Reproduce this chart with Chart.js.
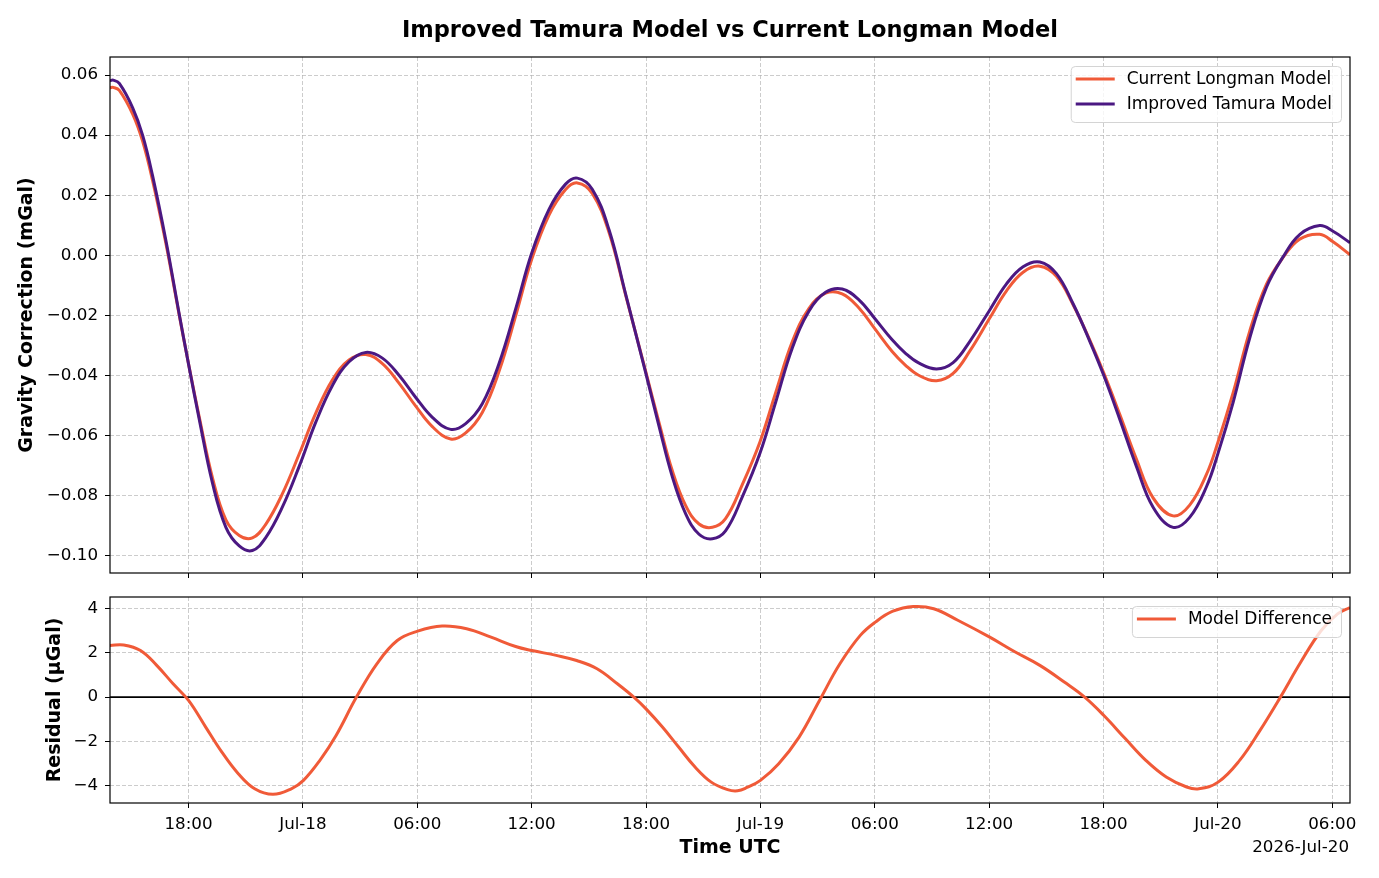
<!DOCTYPE html>
<html>
<head>
<meta charset="utf-8">
<title>Improved Tamura Model vs Current Longman Model</title>
<script src="https://cdn.jsdelivr.net/npm/chart.js@4.4.1/dist/chart.umd.min.js"></script>
<style>
  html, body { margin: 0; padding: 0; background: #fff; }
  #wrap { position: relative; width: 1379px; height: 878px; }
  canvas { position: absolute; left: 0; }
  #topChart { top: 0; }
  #resChart { top: 585px; }
</style>
</head>
<body>
<div id="wrap">
  <canvas id="topChart" width="1379" height="585"></canvas>
  <canvas id="resChart" width="1379" height="293"></canvas>
</div>
<script>
// time axis = hours since 2026-07-17 00:00 UTC

// top panel (mGal)
const modelHours = [13.88, 14.05, 14.37, 15.07, 15.59, 16.11, 16.81, 17.51, 18.00, 18.56, 19.26, 19.96, 20.66, 21.35, 22.05, 22.92, 23.80, 24.67, 25.55, 26.42, 27.30, 28.17, 29.04, 29.91, 30.79, 31.75, 32.54, 33.41, 34.29, 35.20, 36.00, 36.91, 37.78, 38.40, 39.18, 40.06, 40.93, 41.98, 42.68, 43.38, 44.08, 44.78, 45.48, 46.17, 47.05, 47.98, 48.80, 49.67, 50.55, 51.42, 52.29, 53.17, 54.00, 54.90, 55.60, 56.30, 57.24, 58.11, 58.99, 60.00, 60.91, 61.78, 62.66, 63.53, 64.41, 65.28, 66.01, 66.85, 67.73, 68.60, 69.65, 70.52, 71.40, 72.01, 72.80, 73.67, 74.55, 75.42, 76.29, 77.34, 78.04, 78.93];
const longman = [0.0558, 0.0559, 0.0549, 0.0470, 0.0380, 0.0250, 0.0040, -0.0198, -0.0361, -0.0537, -0.0741, -0.0880, -0.0932, -0.0940, -0.0895, -0.0794, -0.0662, -0.0526, -0.0414, -0.0348, -0.0330, -0.0360, -0.0425, -0.0501, -0.0570, -0.0611, -0.0591, -0.0523, -0.0386, -0.0193, -0.0014, 0.0134, 0.0219, 0.0241, 0.0206, 0.0076, -0.0132, -0.0385, -0.0556, -0.0717, -0.0833, -0.0894, -0.0905, -0.0876, -0.0763, -0.0620, -0.0457, -0.0288, -0.0176, -0.0126, -0.0128, -0.0175, -0.0244, -0.0319, -0.0365, -0.0399, -0.0417, -0.0393, -0.0318, -0.0212, -0.0118, -0.0056, -0.0036, -0.0070, -0.0165, -0.0282, -0.0391, -0.0529, -0.0679, -0.0807, -0.0867, -0.0831, -0.0729, -0.0620, -0.0457, -0.0252, -0.0096, -0.0007, 0.0054, 0.0070, 0.0045, 0.0002];
const tamura = [0.0581, 0.0583, 0.0572, 0.0491, 0.0400, 0.0266, 0.0050, -0.0195, -0.0362, -0.0545, -0.0759, -0.0905, -0.0967, -0.0982, -0.0939, -0.0838, -0.0703, -0.0556, -0.0433, -0.0354, -0.0323, -0.0342, -0.0399, -0.0472, -0.0539, -0.0579, -0.0560, -0.0494, -0.0360, -0.0170, 0.0007, 0.0153, 0.0237, 0.0257, 0.0220, 0.0085, -0.0129, -0.0390, -0.0568, -0.0737, -0.0860, -0.0928, -0.0943, -0.0917, -0.0804, -0.0658, -0.0489, -0.0309, -0.0185, -0.0123, -0.0112, -0.0148, -0.0210, -0.0280, -0.0325, -0.0358, -0.0378, -0.0357, -0.0286, -0.0185, -0.0095, -0.0038, -0.0022, -0.0061, -0.0162, -0.0286, -0.0399, -0.0545, -0.0703, -0.0838, -0.0905, -0.0872, -0.0770, -0.0658, -0.0489, -0.0275, -0.0106, -0.0005, 0.0069, 0.0099, 0.0080, 0.0042];

// bottom panel (µGal)
const residualHours = [13.88, 14.60, 15.48, 16.33, 17.19, 18.00, 18.90, 19.75, 20.61, 21.47, 22.43, 23.39, 24.03, 24.89, 25.74, 26.81, 27.88, 28.95, 30.02, 31.30, 32.59, 33.87, 35.16, 36.01, 37.29, 38.36, 39.43, 40.50, 41.36, 42.00, 42.86, 43.71, 44.57, 45.42, 46.28, 46.80, 47.30, 48.00, 48.96, 50.03, 51.10, 52.17, 53.24, 54.03, 54.95, 56.02, 57.09, 58.38, 60.03, 61.37, 62.66, 63.94, 65.01, 66.02, 67.15, 68.22, 69.29, 70.36, 71.00, 72.01, 73.14, 74.21, 75.28, 76.35, 77.42, 78.28, 78.93];
const residual = [2.33, 2.35, 2.10, 1.43, 0.60, -0.15, -1.35, -2.48, -3.45, -4.13, -4.38, -4.13, -3.75, -2.85, -1.73, 0.00, 1.50, 2.55, 2.97, 3.20, 3.08, 2.70, 2.28, 2.10, 1.88, 1.65, 1.28, 0.60, 0.00, -0.53, -1.35, -2.25, -3.15, -3.83, -4.17, -4.22, -4.07, -3.75, -3.00, -1.80, -0.15, 1.50, 2.78, 3.38, 3.87, 4.08, 3.98, 3.45, 2.70, 2.03, 1.43, 0.68, 0.00, -0.83, -1.88, -2.85, -3.60, -4.05, -4.13, -3.83, -2.85, -1.50, 0.00, 1.58, 3.00, 3.75, 4.03];

const gravityTicks = [-0.10, -0.08, -0.06, -0.04, -0.02, 0.00, 0.02, 0.04, 0.06];
const residualTicks = [-4, -2, 0, 2, 4];
const timeTicks = [18, 24, 30, 36, 42, 48, 54, 60, 66, 72, 78];
const chartTitle = 'Improved Tamura Model vs Current Longman Model';
const offsetLabel = '2026-Jul-20';

const xMin = 13.88, xMax = 78.93;
const orange = '#f05a38';
const purple = '#4b1882';

Chart.defaults.font.family = "'DejaVu Sans', sans-serif";
Chart.defaults.color = '#000';

function pairs(xs, ys) {
  return xs.map((x, i) => ({ x: x, y: ys[i] }));
}

function timeLabel(h) {
  if (h % 24 === 0) return 'Jul-' + (17 + h / 24);
  const hh = h % 24;
  return (hh < 10 ? '0' : '') + hh + ':00';
}

function minus(s) {
  return s.replace('-', '\u2212');
}

function setTicks(list) {
  return function (scale) {
    scale.ticks = list.map(v => ({ value: v }));
  };
}

const gridOpts = {
  color: 'rgba(176,176,176,0.65)',
  lineWidth: 1,
  tickColor: '#000',
  tickLength: 5,
  tickWidth: 1
};
const borderOpts = { display: false, dash: [4, 2] };

// black box round the plot area, like matplotlib spines
const frame = {
  id: 'frame',
  afterDraw(chart) {
    const a = chart.chartArea, ctx = chart.ctx;
    ctx.save();
    ctx.strokeStyle = '#000';
    ctx.lineWidth = 1.2;
    ctx.strokeRect(a.left, a.top, a.right - a.left, a.bottom - a.top);
    ctx.restore();
  }
};

// title centred over the plot area (not the whole canvas)
const axesTitle = {
  id: 'axesTitle',
  afterDraw(chart) {
    const a = chart.chartArea, ctx = chart.ctx;
    ctx.save();
    ctx.font = "bold 22.5px 'DejaVu Sans'";
    ctx.fillStyle = '#000';
    ctx.textAlign = 'center';
    ctx.textBaseline = 'alphabetic';
    ctx.fillText(chartTitle, (a.left + a.right) / 2, 37);
    ctx.restore();
  }
};

// legend box inside the upper right corner
const boxLegend = {
  id: 'boxLegend',
  afterDatasetsDraw(chart) {
    const a = chart.chartArea, ctx = chart.ctx;
    const sets = chart.data.datasets.filter(d => d.label);
    ctx.save();
    ctx.font = "17px 'DejaVu Sans'";
    const textW = Math.max(...sets.map(d => ctx.measureText(d.label).width));
    const w = 56 + textW + 9, h = sets.length * 25 + 6;
    const x = a.right - 9 - w, y = a.top + 9;
    ctx.beginPath();
    ctx.roundRect(x + 0.5, y + 0.5, w, h, 4);
    ctx.fillStyle = 'rgba(255,255,255,0.8)';
    ctx.fill();
    ctx.strokeStyle = '#d4d4d4';
    ctx.lineWidth = 1;
    ctx.stroke();
    sets.forEach((d, i) => {
      const cy = y + 13 + i * 25;
      ctx.beginPath();
      ctx.moveTo(x + 5, cy);
      ctx.lineTo(x + 44, cy);
      ctx.strokeStyle = d.borderColor;
      ctx.lineWidth = 3;
      ctx.stroke();
      ctx.fillStyle = '#000';
      ctx.textBaseline = 'middle';
      ctx.fillText(d.label, x + 56, cy + 1);
    });
    ctx.restore();
  }
};

const zeroLine = {
  id: 'zeroLine',
  beforeDatasetsDraw(chart) {
    const a = chart.chartArea, ctx = chart.ctx;
    const y = chart.scales.y.getPixelForValue(0);
    ctx.save();
    ctx.beginPath();
    ctx.moveTo(a.left, y);
    ctx.lineTo(a.right, y);
    ctx.strokeStyle = '#000';
    ctx.lineWidth = 1.6;
    ctx.stroke();
    ctx.restore();
  }
};

const offsetText = {
  id: 'offsetText',
  afterDraw(chart) {
    const ctx = chart.ctx;
    ctx.save();
    ctx.font = "16.7px 'DejaVu Sans'";
    ctx.fillStyle = '#000';
    ctx.textAlign = 'right';
    ctx.textBaseline = 'alphabetic';
    ctx.fillText(offsetLabel, chart.chartArea.right - 1, 267);
    ctx.restore();
  }
};

function fitWidth(w) {
  return function (s) {
    s.width = w;
    s.paddingTop = 0;
    s.paddingBottom = 0;
  };
}
function fitHeight(h) {
  return function (s) {
    s.height = h;
    s.paddingLeft = 0;
    s.paddingRight = 0;
  };
}

const lineStyle = {
  borderWidth: 3,
  pointRadius: 0,
  fill: false,
  tension: 0.4
};

new Chart(document.getElementById('topChart'), {
  type: 'line',
  data: {
    datasets: [
      Object.assign({ label: 'Current Longman Model', data: pairs(modelHours, longman), borderColor: orange, order: 2 }, lineStyle),
      Object.assign({ label: 'Improved Tamura Model', data: pairs(modelHours, tamura), borderColor: purple, order: 1 }, lineStyle)
    ]
  },
  options: {
    responsive: false,
    animation: false,
    devicePixelRatio: 1,
    layout: { padding: { top: 57, right: 29, bottom: 0, left: 0 } },
    plugins: {
      legend: { display: false },
      tooltip: { enabled: false },
      title: { display: false }
    },
    scales: {
      x: {
        type: 'linear',
        min: xMin,
        max: xMax,
        afterBuildTicks: setTicks(timeTicks),
        afterFit: fitHeight(12),
        ticks: { display: false },
        grid: gridOpts,
        border: borderOpts
      },
      y: {
        min: -0.1057,
        max: 0.066,
        afterBuildTicks: setTicks(gravityTicks),
        afterFit: fitWidth(110),
        ticks: {
          padding: 7,
          font: { size: 16.7 },
          callback: v => minus(v.toFixed(2))
        },
        title: {
          display: true,
          text: 'Gravity Correction (mGal)',
          font: { size: 19, weight: 'bold' },
          padding: { top: 16, bottom: 0 }
        },
        grid: gridOpts,
        border: borderOpts
      }
    }
  },
  plugins: [boxLegend, frame, axesTitle]
});

new Chart(document.getElementById('resChart'), {
  type: 'line',
  data: {
    datasets: [
      Object.assign({ label: 'Model Difference', data: pairs(residualHours, residual), borderColor: orange }, lineStyle)
    ]
  },
  options: {
    responsive: false,
    animation: false,
    devicePixelRatio: 1,
    layout: { padding: { top: 12, right: 29, bottom: 0, left: 0 } },
    plugins: {
      legend: { display: false },
      tooltip: { enabled: false }
    },
    scales: {
      x: {
        type: 'linear',
        min: xMin,
        max: xMax,
        afterBuildTicks: setTicks(timeTicks),
        afterFit: fitHeight(75),
        ticks: {
          padding: 7,
          maxRotation: 0,
          autoSkip: false,
          font: { size: 16.7 },
          callback: v => timeLabel(v)
        },
        title: {
          display: true,
          text: 'Time UTC',
          font: { size: 19, weight: 'bold' },
          padding: { top: 0, bottom: 18.6 }
        },
        grid: gridOpts,
        border: borderOpts
      },
      y: {
        min: -4.77,
        max: 4.51,
        afterBuildTicks: setTicks(residualTicks),
        afterFit: fitWidth(110),
        ticks: {
          padding: 7,
          font: { size: 16.7 },
          callback: v => minus(String(v))
        },
        title: {
          display: true,
          text: 'Residual (µGal)',
          font: { size: 19, weight: 'bold' },
          padding: { top: 43.6, bottom: 0 }
        },
        grid: gridOpts,
        border: borderOpts
      }
    }
  },
  plugins: [zeroLine, boxLegend, frame, offsetText]
});
</script>
</body>
</html>
